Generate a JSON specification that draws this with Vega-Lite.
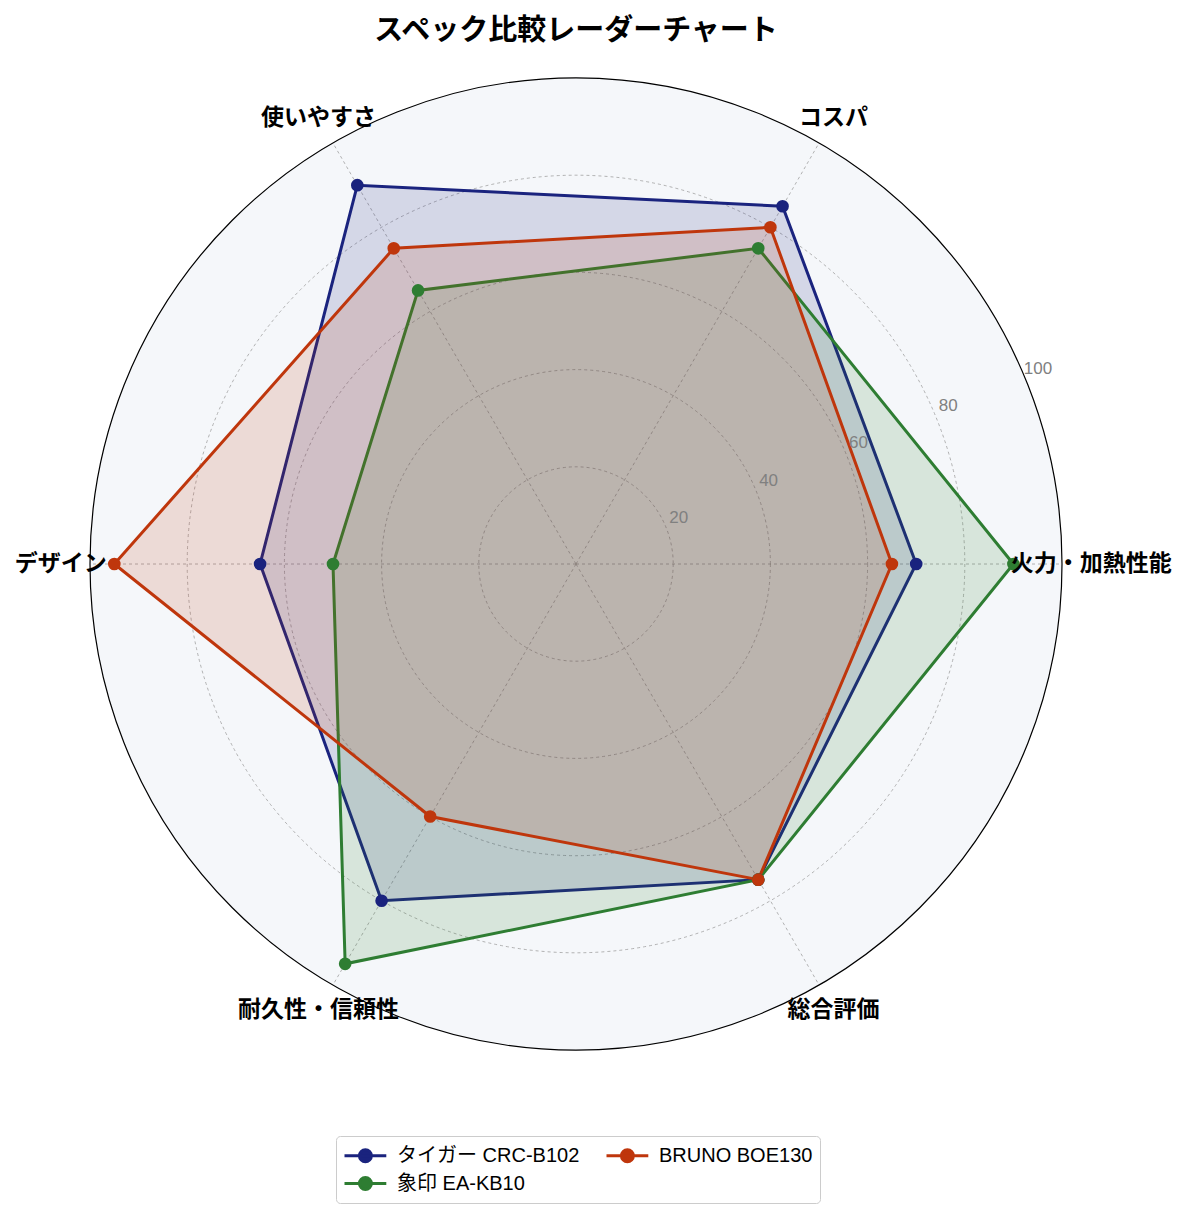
{
  "$schema": "https://vega.github.io/schema/vega-lite/v6.json",
  "autosize": "none",
  "width": 972,
  "height": 972,
  "padding": {"left": 90, "top": 78, "right": 123, "bottom": 164},
  "background": "white",
  "title": {
    "text": "スペック比較レーダーチャート",
    "font": "Noto Sans CJK JP",
    "fontSize": 29,
    "fontWeight": "bold",
    "color": "black",
    "anchor": "middle",
    "baseline": "middle",
    "frame": "group",
    "offset": 16
  },
  "datasets": {
    "scores": [
      {"model": "タイガー CRC-B102", "spec": "火力・加熱性能", "score": 70},
      {"model": "タイガー CRC-B102", "spec": "コスパ", "score": 85},
      {"model": "タイガー CRC-B102", "spec": "使いやすさ", "score": 90},
      {"model": "タイガー CRC-B102", "spec": "デザイン", "score": 65},
      {"model": "タイガー CRC-B102", "spec": "耐久性・信頼性", "score": 80},
      {"model": "タイガー CRC-B102", "spec": "総合評価", "score": 75},
      {"model": "象印 EA-KB10", "spec": "火力・加熱性能", "score": 90},
      {"model": "象印 EA-KB10", "spec": "コスパ", "score": 75},
      {"model": "象印 EA-KB10", "spec": "使いやすさ", "score": 65},
      {"model": "象印 EA-KB10", "spec": "デザイン", "score": 50},
      {"model": "象印 EA-KB10", "spec": "耐久性・信頼性", "score": 95},
      {"model": "象印 EA-KB10", "spec": "総合評価", "score": 75},
      {"model": "BRUNO BOE130", "spec": "火力・加熱性能", "score": 65},
      {"model": "BRUNO BOE130", "spec": "コスパ", "score": 80},
      {"model": "BRUNO BOE130", "spec": "使いやすさ", "score": 75},
      {"model": "BRUNO BOE130", "spec": "デザイン", "score": 95},
      {"model": "BRUNO BOE130", "spec": "耐久性・信頼性", "score": 60},
      {"model": "BRUNO BOE130", "spec": "総合評価", "score": 75}
    ],
    "specs": [
      {"spec": "火力・加熱性能"},
      {"spec": "コスパ"},
      {"spec": "使いやすさ"},
      {"spec": "デザイン"},
      {"spec": "耐久性・信頼性"},
      {"spec": "総合評価"}
    ],
    "rings": [
      {"ring": 20},
      {"ring": 40},
      {"ring": 60},
      {"ring": 80},
      {"ring": 100}
    ]
  },
  "layer": [
    {
      "data": {"name": "rings"},
      "transform": [{"filter": "datum.ring == 100"}, {"calculate": "0", "as": "o"}],
      "mark": {"type": "point", "shape": "circle", "fill": "#f5f7fa", "fillOpacity": 1, "stroke": "black", "strokeWidth": 1.2, "opacity": 1},
      "encoding": {
        "x": {"field": "o", "type": "quantitative", "scale": {"domain": [-100, 100], "nice": false, "zero": false}, "axis": null},
        "y": {"field": "o", "type": "quantitative", "scale": {"domain": [-100, 100], "nice": false, "zero": false}, "axis": null},
        "size": {"field": "ring", "type": "quantitative", "scale": {"type": "pow", "exponent": 2, "domain": [0, 100], "range": [0, 944784]}, "legend": null}
      }
    },
    {
      "data": {"name": "rings"},
      "transform": [{"filter": "datum.ring < 100"}, {"calculate": "0", "as": "o"}],
      "mark": {"type": "point", "shape": "circle", "filled": false, "stroke": "#a0a0a0", "strokeWidth": 0.8, "strokeDash": [3, 3], "opacity": 1},
      "encoding": {
        "x": {"field": "o", "type": "quantitative"},
        "y": {"field": "o", "type": "quantitative"},
        "size": {"field": "ring", "type": "quantitative", "legend": null}
      }
    },
    {
      "data": {"name": "specs"},
      "transform": [
        {"calculate": "indexof(['火力・加熱性能','コスパ','使いやすさ','デザイン','耐久性・信頼性','総合評価'], datum.spec) * PI / 3", "as": "angle"},
        {"calculate": "0", "as": "o"},
        {"calculate": "100 * cos(datum.angle)", "as": "ex"},
        {"calculate": "100 * sin(datum.angle)", "as": "ey"}
      ],
      "mark": {"type": "rule", "stroke": "#a0a0a0", "strokeWidth": 0.8, "strokeDash": [3, 3]},
      "encoding": {
        "x": {"field": "o", "type": "quantitative"},
        "y": {"field": "o", "type": "quantitative"},
        "x2": {"field": "ex"},
        "y2": {"field": "ey"}
      }
    },
    {
      "data": {"name": "scores"},
      "transform": [
        {"calculate": "indexof(['火力・加熱性能','コスパ','使いやすさ','デザイン','耐久性・信頼性','総合評価'], datum.spec)", "as": "idx"},
        {"calculate": "datum.score * cos(datum.idx * PI / 3)", "as": "px"},
        {"calculate": "datum.score * sin(datum.idx * PI / 3)", "as": "py"}
      ],
      "layer": [
        {
          "mark": {"type": "line", "interpolate": "linear-closed", "strokeWidth": 3, "fillOpacity": 0.15},
          "encoding": {
            "x": {"field": "px", "type": "quantitative"},
            "y": {"field": "py", "type": "quantitative"},
            "order": {"field": "idx", "type": "quantitative"},
            "color": {
              "field": "model",
              "type": "nominal",
              "scale": {"domain": ["タイガー CRC-B102", "象印 EA-KB10", "BRUNO BOE130"], "range": ["#1a237e", "#2e7d32", "#bf360c"]},
              "legend": {
                "title": null,
                "orient": "none",
                "legendX": 246,
                "legendY": 1058,
                "columns": 2,
                "symbolType": "M-1,0L2.8,0M0.355,0A0.545,0.545 0 1,1 1.445,0A0.545,0.545 0 1,1 0.355,0",
                "symbolSize": 484,
                "symbolStrokeWidth": 3,
                "labelFont": "Liberation Sans, Noto Sans CJK JP",
                "labelFontSize": 20,
                "labelLimit": 400,
                "labelColor": "black",
                "labelOffset": 29,
                "strokeColor": "#cccccc",
                "fillColor": "white",
                "cornerRadius": 4,
                "padding": 7,
                "columnPadding": 20,
                "rowPadding": 3
              }
            },
            "fill": {
              "field": "model",
              "type": "nominal",
              "scale": {"domain": ["タイガー CRC-B102", "象印 EA-KB10", "BRUNO BOE130"], "range": ["#1a237e", "#2e7d32", "#bf360c"]},
              "legend": null
            }
          }
        },
        {
          "mark": {"type": "point", "shape": "circle", "filled": true, "size": 160, "opacity": 1},
          "encoding": {
            "x": {"field": "px", "type": "quantitative"},
            "y": {"field": "py", "type": "quantitative"},
            "color": {"field": "model", "type": "nominal"}
          }
        }
      ]
    },
    {
      "data": {"name": "rings"},
      "transform": [
        {"calculate": "datum.ring * cos(PI / 8)", "as": "lx"},
        {"calculate": "datum.ring * sin(PI / 8)", "as": "ly"}
      ],
      "mark": {"type": "text", "font": "Liberation Sans", "fontSize": 17, "fill": "#808080", "dx": 13, "dy": -9, "align": "center", "baseline": "middle"},
      "encoding": {
        "x": {"field": "lx", "type": "quantitative"},
        "y": {"field": "ly", "type": "quantitative"},
        "text": {"field": "ring", "type": "nominal"}
      }
    },
    {
      "data": {"name": "specs"},
      "transform": [
        {"calculate": "indexof(['火力・加熱性能','コスパ','使いやすさ','デザイン','耐久性・信頼性','総合評価'], datum.spec) * PI / 3", "as": "angle"},
        {"calculate": "106 * cos(datum.angle)", "as": "tx"},
        {"calculate": "106 * sin(datum.angle)", "as": "ty"}
      ],
      "mark": {"type": "text", "font": "Noto Sans CJK JP", "fontSize": 23, "fontWeight": "bold", "fill": "black", "align": "center", "baseline": "middle"},
      "encoding": {
        "x": {"field": "tx", "type": "quantitative"},
        "y": {"field": "ty", "type": "quantitative"},
        "text": {"field": "spec", "type": "nominal"}
      }
    }
  ],
  "config": {
    "view": {"stroke": null},
    "font": "Noto Sans CJK JP"
  }
}
